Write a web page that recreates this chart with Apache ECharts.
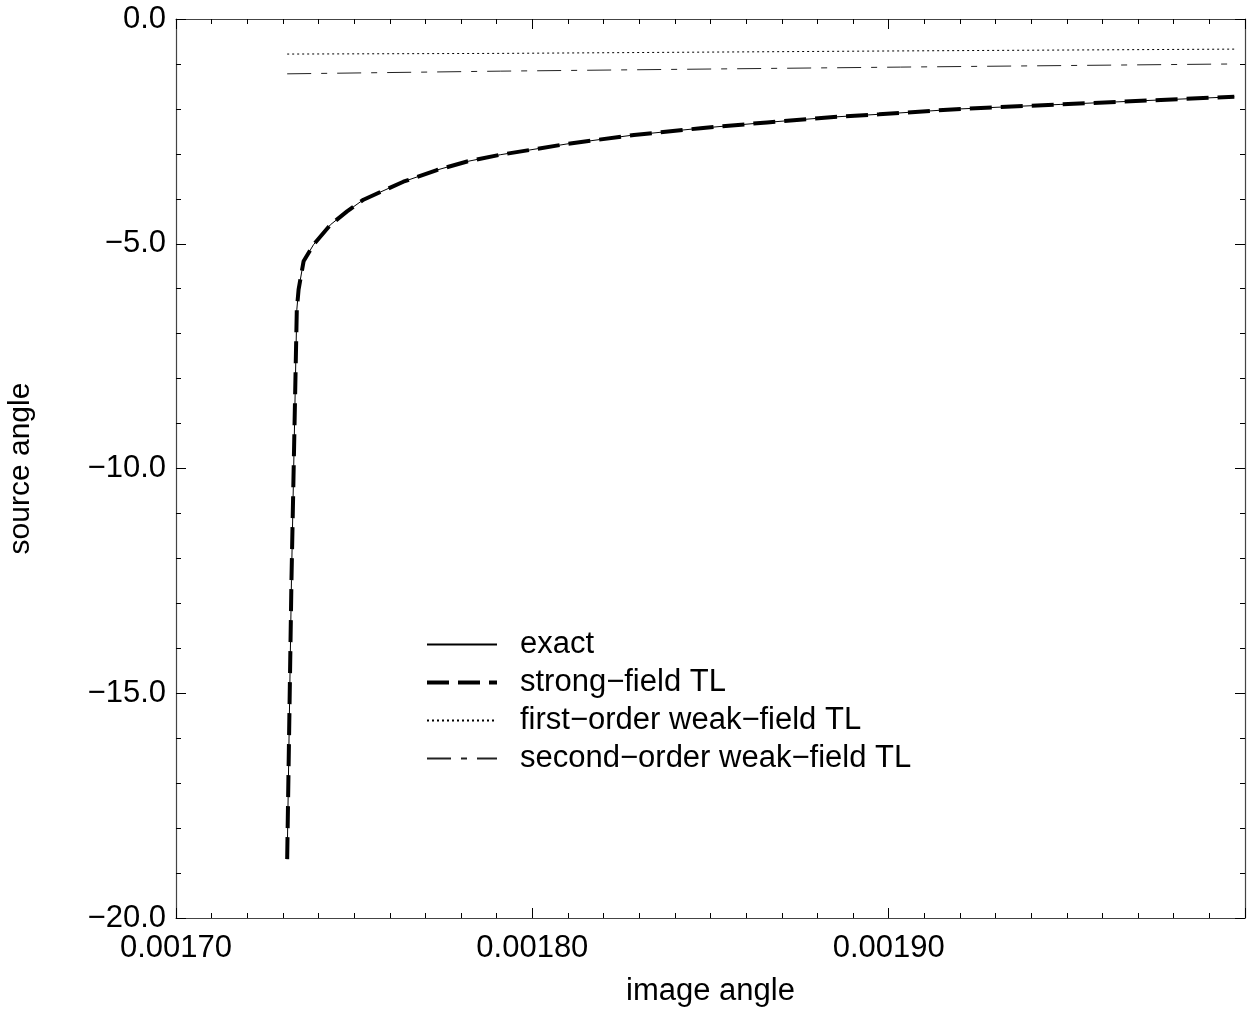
<!DOCTYPE html>
<html>
<head>
<meta charset="utf-8">
<script src="https://cdn.jsdelivr.net/npm/echarts@6/dist/echarts.min.js"></script>
<style>
  html, body { margin: 0; padding: 0; background: #fff; }
  #chart { width: 1252px; height: 1009px; }
</style>
</head>
<body>
<div id="chart"></div>
<script>
// values
var curveX = [0.0017312, 0.0017324, 0.0017339, 0.0017344, 0.0017358, 0.0017386, 0.0017433, 0.0017480,
  0.0017526, 0.0017638, 0.0017732, 0.0017817, 0.0017910, 0.0018097, 0.0018285, 0.0018472,
  0.0018659, 0.0018846, 0.0018973, 0.0019202, 0.0019483, 0.0019764, 0.0019970]
var exactY = [-18.69, -12.5, -6.47, -6.02, -5.39, -5.02, -4.58, -4.28,
  -4.02, -3.62, -3.36, -3.17, -3.02, -2.78, -2.58, -2.43,
  -2.30, -2.18, -2.12, -2.00, -1.90, -1.80, -1.73]
var strongY = [-18.69, -12.5, -6.47, -6.02, -5.39, -5.02, -4.58, -4.28,
  -4.02, -3.62, -3.36, -3.17, -3.02, -2.78, -2.58, -2.43,
  -2.30, -2.18, -2.12, -2.00, -1.90, -1.80, -1.73]
var weakX = [0.0017312, 0.0017910, 0.0019033, 0.0019970]
var firstY = [-0.78, -0.765, -0.71, -0.67]
var secondY = [-1.22, -1.16, -1.07, -1.00]
var names = ['exact', 'strong−field TL', 'first−order weak−field TL', 'second−order weak−field TL']

const pairs = (xs, ys) => xs.map((x, i) => [x, ys[i]])

var chartDom = document.getElementById('chart')
var myChart = echarts.init(chartDom)

var font = 'Liberation Sans, Arial, sans-serif'
var tick = { show: true, inside: true, length: 10, lineStyle: { color: '#000', width: 1 } }
var minor = { show: true, length: 5, lineStyle: { color: '#000', width: 1 } }
var axisLine = { show: true, onZero: false, lineStyle: { color: '#444', width: 1.2 } }

var xBase = {
  type: 'value',
  min: 0.0017,
  max: 0.0020,
  interval: 0.0001,
  axisLine: axisLine,
  axisTick: tick,
  splitLine: { show: false }
}
var yBase = {
  type: 'value',
  min: -20,
  max: 0,
  interval: 5,
  axisLine: axisLine,
  axisTick: tick,
  splitLine: { show: false }
}

var option = {
  backgroundColor: '#fff',
  animation: false,
  textStyle: { fontFamily: font },
  grid: { left: 176, right: 7, top: 19, bottom: 91, containLabel: false, outerBoundsMode: 'none' },
  legend: {
    orient: 'vertical',
    left: 420,
    top: 624,
    itemWidth: 70,
    itemHeight: 26,
    itemGap: 7,
    itemStyle: { opacity: 0 },
    data: [
      { name: names[0] },
      { name: names[1], lineStyle: { width: 4 } },
      { name: names[2] },
      { name: names[3] }
    ],
    textStyle: { fontSize: 31, color: '#000', fontFamily: font, padding: [0, 0, 0, 18] }
  },
  xAxis: [
    Object.assign({}, xBase, {
      position: 'bottom',
      name: 'image angle',
      nameLocation: 'middle',
      nameGap: 58,
      nameTextStyle: { fontSize: 31, color: '#000', fontFamily: font },
      minorTick: Object.assign({ splitNumber: 10 }, minor),
      axisLabel: {
        fontSize: 31, color: '#000', margin: 15, fontFamily: font,
        formatter: v => (v > 0.00195 ? '' : v.toFixed(5))
      }
    }),
    Object.assign({}, xBase, {
      position: 'top',
      minorTick: Object.assign({ splitNumber: 10 }, minor),
      axisLabel: { show: false }
    })
  ],
  yAxis: [
    Object.assign({}, yBase, {
      position: 'left',
      name: 'source angle',
      nameLocation: 'middle',
      nameGap: 140,
      nameTextStyle: { fontSize: 30, color: '#000', fontFamily: font },
      minorTick: Object.assign({ splitNumber: 5 }, minor),
      axisLabel: {
        fontSize: 31, color: '#000', margin: 10, fontFamily: font,
        formatter: v => v.toFixed(1).replace('-', '−')
      }
    }),
    Object.assign({}, yBase, {
      position: 'right',
      minorTick: Object.assign({ splitNumber: 5 }, minor),
      axisLabel: { show: false }
    })
  ],
  series: [
    {
      name: names[1],
      type: 'line',
      symbol: 'none',
      z: 2,
      lineStyle: { color: '#000', width: 4, type: [22, 9] },
      itemStyle: { color: '#000' },
      data: pairs(curveX, strongY)
    },
    {
      name: names[0],
      type: 'line',
      symbol: 'none',
      z: 3,
      lineStyle: { color: '#000', width: 1 },
      itemStyle: { color: '#000' },
      data: pairs(curveX, exactY)
    },
    {
      name: names[2],
      type: 'line',
      symbol: 'none',
      lineStyle: { color: '#000', width: 1, type: [2, 3] },
      itemStyle: { color: '#000' },
      data: pairs(weakX, firstY)
    },
    {
      name: names[3],
      type: 'line',
      symbol: 'none',
      lineStyle: { color: '#222', width: 1, type: [24, 10, 6, 10] },
      itemStyle: { color: '#222' },
      data: pairs(weakX, secondY)
    }
  ]
}

option && myChart.setOption(option)
</script>
</body>
</html>
